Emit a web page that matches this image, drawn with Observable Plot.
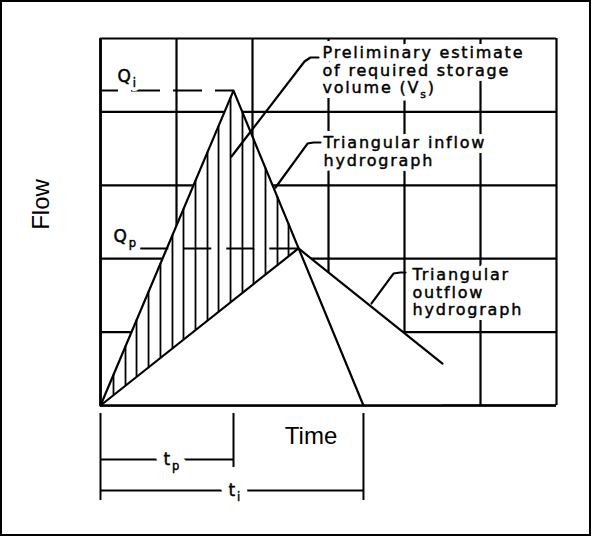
<!DOCTYPE html>
<html>
<head>
<meta charset="utf-8">
<script src="https://cdn.jsdelivr.net/npm/d3@7"></script>
<script src="https://cdn.jsdelivr.net/npm/@observablehq/plot@0.6"></script>
<style>
  html, body { margin: 0; padding: 0; background: #fff; }
  #wrap { position: relative; width: 594px; height: 536px; }
  #wrap svg { position: absolute; left: 0; top: 0; }
  #frame { position: absolute; left: 0; top: 0; width: 591px; height: 536px;
           border: 2.5px solid #000; box-sizing: border-box; pointer-events: none; }
</style>
</head>
<body>
<div id="wrap"><div id="frame"></div></div>
<script>
// ---- data (time in grid units, flow in grid units) ----
const gridTimes = [0, 1, 2, 3, 4, 5, 6];
const gridFlows = [0, 1, 2, 3, 4, 5];

const inflowTime = [0, 1.75, 3.46];
const inflowFlow = [0, 4.29, 0];

const outflowTime = [0, 2.605, 4.5];
const outflowFlow = [0, 2.14, 0.57];

const hatchTimes = [0.171, 0.329, 0.474, 0.632, 0.789, 0.947, 1.092, 1.250,
                    1.408, 1.553, 1.711, 1.868, 2.013, 2.171, 2.329, 2.474];

const qpLineStart = 0.53;

const labelTexts = [
  "Preliminary estimate\nof required storage\nvolume (V_s)",
  "Triangular inflow\nhydrograph",
  "Triangular\noutflow\nhydrograph"
];
const labelTime = [2.921, 2.934, 4.105];
const labelFlow = [4.905, 3.678, 1.880];

const leader1Time = [1.724, 2.684, 2.763, 2.868];
const leader1Flow = [3.392, 4.687, 4.741, 4.741];
const leader2Time = [2.303, 2.724, 2.803, 2.895];
const leader2Flow = [2.970, 3.569, 3.583, 3.583];
const leader3Time = [3.566, 3.855, 3.947, 4.013];
const leader3Flow = [1.390, 1.798, 1.812, 1.812];

const qLabels = ["Q_i", "Q_p"];
const qLabelTime = [0.224, 0.171];
const qLabelFlow = [4.475, 2.302];

const dimLabels = ["t_p", "t_i"];
const dimLabelTime = [0.829, 1.684];
const dimLevel = [-0.736, -1.158];
const tickTop = -0.109;
const tickBottom = [-1.294, -0.845, -1.294];

// ---- helpers ----
const pts = (ts, qs) => ts.map((t, i) => ({t, q: qs[i]}));
function interp(ts, qs, t) {
  for (let i = 0; i < ts.length - 1; i++) {
    if (t <= ts[i + 1]) return qs[i] + (qs[i + 1] - qs[i]) * (t - ts[i]) / (ts[i + 1] - ts[i]);
  }
  return qs[qs.length - 1];
}
const inflow = pts(inflowTime, inflowFlow);
const outflow = pts(outflowTime, outflowFlow);
const tp = inflowTime[1], Qi = inflowFlow[1];
const ti = inflowTime[2];
const Qp = outflowFlow[1], tQp = outflowTime[1];
// envelope of the two hydrographs (area that hides the grid)
const envelope = [inflow[0], inflow[1], outflow[1], outflow[2]];
const labels = labelTexts.map((s, i) => ({s, t: labelTime[i], q: labelFlow[i]}));

const lineStyle = {stroke: "black", strokeWidth: 2.2};
const font = "DejaVu Sans";

// text drawn twice: a white knock-out underneath, then the black lettering
function lettering(data, opts, halo) {
  return [
    Plot.text(data, {...opts, fill: "white", stroke: "white", strokeWidth: halo}),
    Plot.text(data, {...opts, fill: "black", stroke: "black", strokeWidth: 0.45})
  ];
}

const plot = Plot.plot({
  width: 594, height: 536,
  marginLeft: 100, marginRight: 38, marginTop: 38, marginBottom: 131,
  x: {domain: [0, 6], axis: null},
  y: {domain: [0, 5], axis: null},
  style: {background: "transparent", overflow: "visible"},
  marks: [
    Plot.ruleX(gridTimes, {stroke: "black", strokeWidth: 2.2}),
    Plot.ruleY(gridFlows, {stroke: "black", strokeWidth: 2.2}),
    Plot.areaY(envelope, {x: "t", y: "q", fill: "white"}),
    Plot.ruleX([0], {stroke: "black", strokeWidth: 2.6}),
    Plot.ruleY([0], {stroke: "black", strokeWidth: 2.6}),
    // hatching
    Plot.ruleX(hatchTimes, {
      x: d => d,
      y1: d => interp(outflowTime, outflowFlow, d),
      y2: d => interp(inflowTime, inflowFlow, d),
      stroke: "black", strokeWidth: 1.8
    }),
    // dashed peak lines
    Plot.ruleY([Qi], {x1: () => 0, x2: () => tp, stroke: "black", strokeWidth: 2,
      strokeDasharray: "29,13", strokeDashoffset: 11}),
    Plot.ruleY([Qp], {x1: () => qpLineStart, x2: () => tQp, stroke: "black", strokeWidth: 2,
      strokeDasharray: "28,15"}),
    // hydrographs
    Plot.line(inflow, {x: "t", y: "q", ...lineStyle}),
    Plot.line(outflow, {x: "t", y: "q", ...lineStyle}),
    // labels
    ...lettering(labels, {
      x: "t", y: "q", text: "s", textAnchor: "start", lineAnchor: "top",
      lineHeight: 1.1, fontSize: 16, fontFamily: font
    }, 10),
    // leader lines
    Plot.line(pts(leader1Time, leader1Flow), {x: "t", y: "q", stroke: "black", strokeWidth: 2.2}),
    Plot.line(pts(leader2Time, leader2Flow), {x: "t", y: "q", stroke: "black", strokeWidth: 2.2}),
    Plot.line(pts(leader3Time, leader3Flow), {x: "t", y: "q", stroke: "black", strokeWidth: 2.2}),
    // Q labels
    ...lettering(qLabels, {
      x: (d, i) => qLabelTime[i], y: (d, i) => qLabelFlow[i], text: d => d,
      textAnchor: "start", lineAnchor: "middle", fontSize: 17, fontFamily: font
    }, 8),
    // dimension lines below the time axis
    Plot.ruleX([0, tp, ti], {
      x: d => d, y1: () => tickTop, y2: (d, i) => tickBottom[i],
      stroke: "black", strokeWidth: 2
    }),
    Plot.ruleY(dimLevel, {
      y: d => d, x1: () => 0, x2: (d, i) => [tp, ti][i],
      stroke: "black", strokeWidth: 2
    }),
    ...lettering(dimLabels, {
      x: (d, i) => dimLabelTime[i], y: (d, i) => dimLevel[i], text: d => d,
      textAnchor: "start", lineAnchor: "middle", fontSize: 17, fontFamily: font
    }, 16),
    // axis titles
    Plot.text(["Time"], {x: () => 2.770, y: () => -0.422, text: d => d,
      fontSize: 24, fontFamily: "Liberation Sans", fill: "black", lineAnchor: "middle"}),
    Plot.text(["Flow"], {x: () => -0.776, y: () => 2.738, text: d => d, rotate: -90,
      fontSize: 24, fontFamily: "Liberation Sans", fill: "black", lineAnchor: "middle"})
  ]
});

// subscripts: "X_y" -> X with a lowered small y
const svgns = "http://www.w3.org/2000/svg";
d3.select(plot).selectAll("text, tspan").each(function () {
  const el = this;
  if (el.childNodes.length !== 1 || el.firstChild.nodeType !== 3) return;
  const s = el.textContent;
  if (!s.includes("_")) return;
  const parts = s.split(/_(\w)/);
  el.textContent = "";
  parts.forEach((p, i) => {
    if (p === "") return;
    const t = document.createElementNS(svgns, "tspan");
    t.textContent = p;
    if (i % 2 === 1) { t.setAttribute("font-size", "68%"); t.setAttribute("dy", "5"); }
    else if (i > 0) t.setAttribute("dy", "-5");
    el.appendChild(t);
  });
});
// wider letter spacing for the lettering-style labels
d3.select(plot).selectAll(`g[font-family="${font}"]`).attr("letter-spacing", "1.8px");

document.getElementById("wrap").insertBefore(plot, document.getElementById("frame"));
</script>
</body>
</html>
